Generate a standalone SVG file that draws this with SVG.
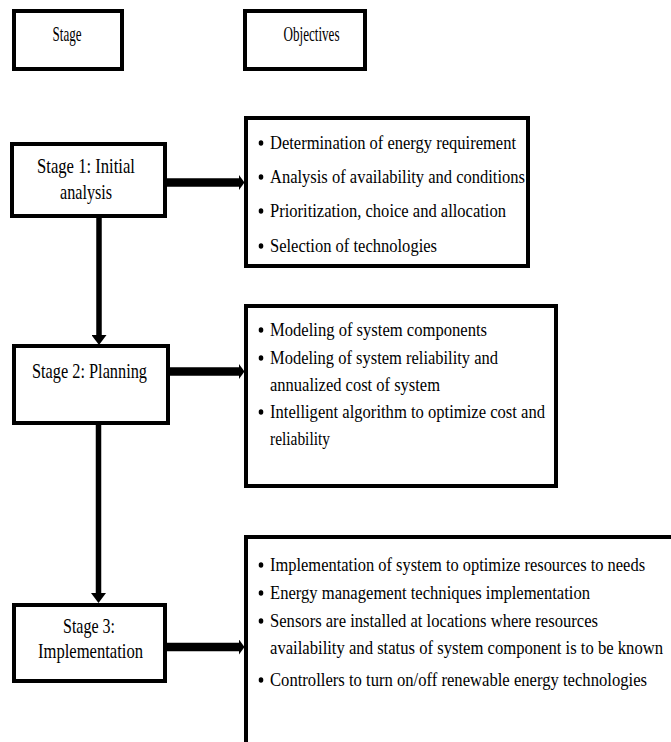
<svg xmlns="http://www.w3.org/2000/svg" width="671" height="742" viewBox="0 0 671 742">
<style>
  .box { fill: #ffffff; stroke: #000000; stroke-width: 4; }
  .t { font-family: "Liberation Serif", "Times New Roman", serif; fill: #000000; }
  .hdr { font-size: 22px; text-anchor: middle; }
  .stg { font-size: 21.5px; }
  .obj { font-size: 18.5px; }
  .vline { stroke: #000000; stroke-width: 5.5; fill: none; }
  .hline { stroke: #000000; stroke-width: 8.5; fill: none; }
  .dot { fill: #000000; }
</style>
<defs>
  <marker id="headV" markerUnits="userSpaceOnUse" markerWidth="11" markerHeight="15" refX="0" refY="7.5" orient="auto">
    <path d="M0,0 L10,7.5 L0,15 z" fill="#000000"/>
  </marker>
  <marker id="headH" markerUnits="userSpaceOnUse" markerWidth="6" markerHeight="15" refX="0" refY="7.5" orient="auto">
    <path d="M0,0 L5.5,7.5 L0,15 z" fill="#000000"/>
  </marker>
</defs>
<rect x="0" y="0" width="671" height="742" fill="#ffffff"/>

<g id="connectors">
  <line class="vline" x1="99" y1="218" x2="99" y2="335" marker-end="url(#headV)"/>
  <line class="vline" x1="98.5" y1="425" x2="98.5" y2="593" marker-end="url(#headV)"/>
  <line class="hline" x1="165" y1="182.5" x2="239" y2="182.5" marker-end="url(#headH)"/>
  <line class="hline" x1="168" y1="371.5" x2="239" y2="371.5" marker-end="url(#headH)"/>
  <line class="hline" x1="165" y1="647" x2="239" y2="647" marker-end="url(#headH)"/>
</g>

<g id="header-stage">
  <rect class="box" x="14" y="11" width="108" height="58"/>
  <text class="t hdr" x="67" y="41" textLength="29" lengthAdjust="spacingAndGlyphs">Stage</text>
</g>
<g id="header-objectives">
  <rect class="box" x="245" y="11" width="120" height="58"/>
  <text class="t hdr" x="311.5" y="41" textLength="56" lengthAdjust="spacingAndGlyphs">Objectives</text>
</g>

<g id="stage1">
  <rect class="box" x="12" y="144" width="153" height="72"/>
  <text class="t stg" x="37" y="173" textLength="98" lengthAdjust="spacingAndGlyphs">Stage 1: Initial</text>
  <text class="t stg" x="60" y="199" textLength="52" lengthAdjust="spacingAndGlyphs">analysis</text>
</g>

<g id="stage2">
  <rect class="box" x="14" y="346" width="154" height="77"/>
  <text class="t stg" x="32" y="378" textLength="115" lengthAdjust="spacingAndGlyphs">Stage 2: Planning</text>
</g>

<g id="stage3">
  <rect class="box" x="14" y="605" width="151" height="76"/>
  <text class="t stg" x="63" y="633" textLength="52" lengthAdjust="spacingAndGlyphs">Stage 3:</text>
  <text class="t stg" x="38" y="658" textLength="105" lengthAdjust="spacingAndGlyphs">Implementation</text>
</g>

<g id="objectives1">
  <rect class="box" x="246" y="118" width="282" height="148"/>
  <ellipse class="dot" cx="261" cy="143" rx="2.3" ry="2.8"/>
  <text class="t obj" x="270" y="149" textLength="246" lengthAdjust="spacingAndGlyphs">Determination of energy requirement</text>
  <ellipse class="dot" cx="261" cy="177" rx="2.3" ry="2.8"/>
  <text class="t obj" x="270" y="183" textLength="255" lengthAdjust="spacingAndGlyphs">Analysis of availability and conditions</text>
  <ellipse class="dot" cx="261" cy="211" rx="2.3" ry="2.8"/>
  <text class="t obj" x="270" y="217" textLength="236" lengthAdjust="spacingAndGlyphs">Prioritization, choice and allocation</text>
  <ellipse class="dot" cx="261" cy="246" rx="2.3" ry="2.8"/>
  <text class="t obj" x="270" y="252" textLength="167" lengthAdjust="spacingAndGlyphs">Selection of technologies</text>
</g>

<g id="objectives2">
  <rect class="box" x="246" y="306" width="310" height="180"/>
  <ellipse class="dot" cx="261" cy="330" rx="2.3" ry="2.8"/>
  <text class="t obj" x="270" y="336" textLength="217" lengthAdjust="spacingAndGlyphs">Modeling of system components</text>
  <ellipse class="dot" cx="261" cy="358" rx="2.3" ry="2.8"/>
  <text class="t obj" x="270" y="364" textLength="228" lengthAdjust="spacingAndGlyphs">Modeling of system reliability and</text>
  <text class="t obj" x="270" y="391" textLength="170" lengthAdjust="spacingAndGlyphs">annualized cost of system</text>
  <ellipse class="dot" cx="261" cy="412" rx="2.3" ry="2.8"/>
  <text class="t obj" x="270" y="418" textLength="275" lengthAdjust="spacingAndGlyphs">Intelligent algorithm to optimize cost and</text>
  <text class="t obj" x="270" y="445" textLength="60" lengthAdjust="spacingAndGlyphs">reliability</text>
</g>

<g id="objectives3">
  <rect class="box" x="246" y="537" width="500" height="300"/>
  <ellipse class="dot" cx="261" cy="565" rx="2.3" ry="2.8"/>
  <text class="t obj" transform="translate(270,571) scale(0.9,1)" textLength="416.7" lengthAdjust="spacingAndGlyphs">Implementation of system to optimize resources to needs</text>
  <ellipse class="dot" cx="261" cy="593" rx="2.3" ry="2.8"/>
  <text class="t obj" transform="translate(270,599) scale(0.9,1)" textLength="355.6" lengthAdjust="spacingAndGlyphs">Energy management techniques implementation</text>
  <ellipse class="dot" cx="261" cy="621" rx="2.3" ry="2.8"/>
  <text class="t obj" transform="translate(270,627) scale(0.9,1)" textLength="364.4" lengthAdjust="spacingAndGlyphs">Sensors are installed at locations where resources</text>
  <text class="t obj" transform="translate(270,654) scale(0.9,1)" textLength="436.7" lengthAdjust="spacingAndGlyphs">availability and status of system component is to be known</text>
  <ellipse class="dot" cx="261" cy="680" rx="2.3" ry="2.8"/>
  <text class="t obj" transform="translate(270,686) scale(0.9,1)" textLength="418.9" lengthAdjust="spacingAndGlyphs">Controllers to turn on/off renewable energy technologies</text>
</g>
</svg>
